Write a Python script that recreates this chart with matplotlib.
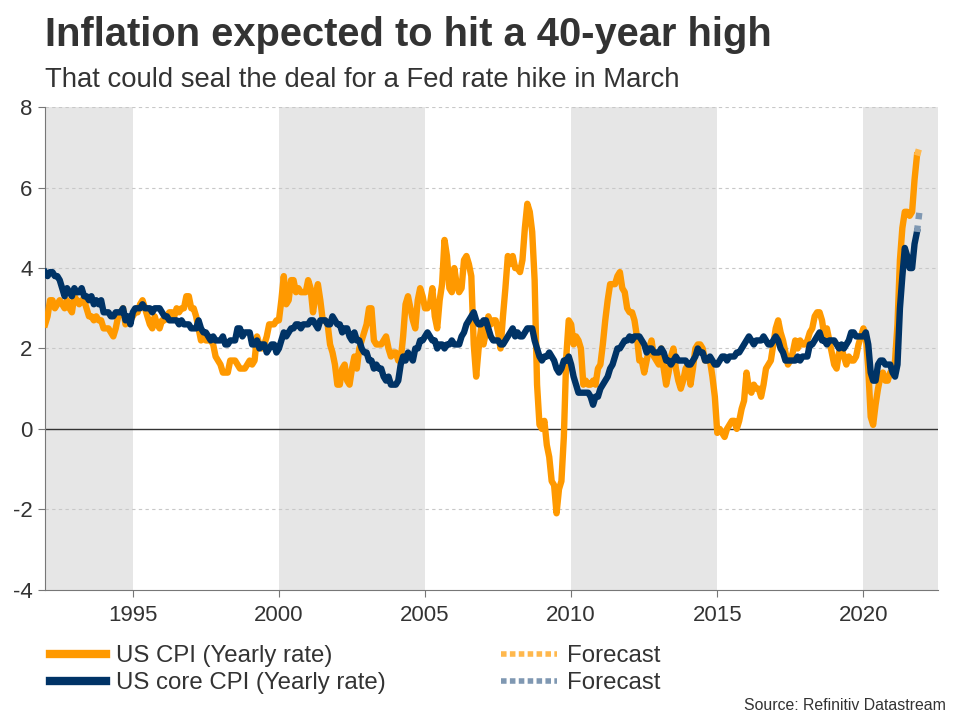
import matplotlib
matplotlib.use("Agg")
import matplotlib.pyplot as plt
from matplotlib.lines import Line2D
import numpy as np

plt.rcParams['font.family'] = ['Liberation Sans', 'DejaVu Sans']

# US CPI, yearly rate, monthly from Jan 1992 to Nov 2021
cpi = [
    2.6, 2.8, 3.2, 3.2, 3.0, 3.1, 3.2, 3.1, 3.0, 3.2, 3.0, 2.9,   # 1992
    3.3, 3.2, 3.1, 3.2, 3.2, 3.0, 2.8, 2.8, 2.7, 2.8, 2.7, 2.7,   # 1993
    2.5, 2.5, 2.5, 2.4, 2.3, 2.5, 2.8, 2.9, 3.0, 2.6, 2.7, 2.7,   # 1994
    2.8, 2.9, 2.9, 3.1, 3.2, 3.0, 2.8, 2.6, 2.5, 2.8, 2.6, 2.5,   # 1995
    2.7, 2.7, 2.8, 2.9, 2.9, 2.8, 3.0, 2.9, 3.0, 3.0, 3.3, 3.3,   # 1996
    3.0, 3.0, 2.8, 2.5, 2.2, 2.3, 2.2, 2.2, 2.2, 2.1, 1.8, 1.7,   # 1997
    1.6, 1.4, 1.4, 1.4, 1.7, 1.7, 1.7, 1.6, 1.5, 1.5, 1.5, 1.6,   # 1998
    1.7, 1.6, 1.7, 2.3, 2.1, 2.0, 2.1, 2.3, 2.6, 2.6, 2.6, 2.7,   # 1999
    2.7, 3.2, 3.8, 3.1, 3.2, 3.7, 3.7, 3.4, 3.5, 3.4, 3.4, 3.4,   # 2000
    3.7, 3.5, 2.9, 3.3, 3.6, 3.2, 2.7, 2.7, 2.6, 2.1, 1.9, 1.6,   # 2001
    1.1, 1.1, 1.5, 1.6, 1.2, 1.1, 1.5, 1.8, 1.5, 2.0, 2.2, 2.4,   # 2002
    2.6, 3.0, 3.0, 2.2, 2.1, 2.1, 2.1, 2.2, 2.3, 2.0, 1.8, 1.9,   # 2003
    1.9, 1.7, 1.7, 2.3, 3.1, 3.3, 3.0, 2.7, 2.5, 3.2, 3.5, 3.3,   # 2004
    3.0, 3.0, 3.1, 3.5, 2.8, 2.5, 3.2, 3.6, 4.7, 4.3, 3.5, 3.4,   # 2005
    4.0, 3.6, 3.4, 3.5, 4.2, 4.3, 4.1, 3.8, 2.1, 1.3, 2.0, 2.5,   # 2006
    2.1, 2.4, 2.8, 2.6, 2.7, 2.7, 2.4, 2.0, 2.8, 3.5, 4.3, 4.1,   # 2007
    4.3, 4.0, 4.0, 3.9, 4.2, 5.0, 5.6, 5.4, 4.9, 3.7, 1.1, 0.1,   # 2008
    0.0, 0.2, -0.4, -0.7, -1.3, -1.4, -2.1, -1.5, -1.3, -0.2, 1.8, 2.7,  # 2009
    2.6, 2.1, 2.3, 2.2, 2.0, 1.1, 1.2, 1.1, 1.1, 1.2, 1.1, 1.5,   # 2010
    1.6, 2.1, 2.7, 3.2, 3.6, 3.6, 3.6, 3.8, 3.9, 3.5, 3.4, 3.0,   # 2011
    2.9, 2.9, 2.7, 2.3, 1.7, 1.7, 1.4, 1.7, 2.0, 2.2, 1.8, 1.7,   # 2012
    1.6, 2.0, 1.5, 1.1, 1.4, 1.8, 2.0, 1.5, 1.2, 1.0, 1.2, 1.5,   # 2013
    1.6, 1.1, 1.5, 2.0, 2.1, 2.1, 2.0, 1.7, 1.7, 1.7, 1.3, 0.8,   # 2014
    -0.1, 0.0, -0.1, -0.2, 0.0, 0.1, 0.2, 0.2, 0.0, 0.2, 0.5, 0.7,  # 2015
    1.4, 1.0, 0.9, 1.1, 1.0, 1.0, 0.8, 1.1, 1.5, 1.6, 1.7, 2.1,   # 2016
    2.5, 2.7, 2.4, 2.2, 1.9, 1.6, 1.7, 1.9, 2.2, 2.0, 2.2, 2.1,   # 2017
    2.1, 2.2, 2.4, 2.5, 2.8, 2.9, 2.9, 2.7, 2.3, 2.5, 2.2, 1.9,   # 2018
    1.6, 1.5, 1.9, 2.0, 1.8, 1.6, 1.8, 1.7, 1.7, 1.8, 2.1, 2.3,   # 2019
    2.5, 2.3, 1.5, 0.3, 0.1, 0.6, 1.0, 1.3, 1.4, 1.2, 1.2, 1.4,   # 2020
    1.4, 1.7, 2.6, 4.2, 5.0, 5.4, 5.4, 5.3, 5.4, 6.2, 6.8,        # 2021
]

# US core CPI, yearly rate, monthly from Jan 1992 to Nov 2021
core = [
    3.9, 3.8, 3.9, 3.9, 3.8, 3.8, 3.7, 3.5, 3.3, 3.5, 3.4, 3.3,   # 1992
    3.5, 3.4, 3.4, 3.5, 3.3, 3.3, 3.2, 3.3, 3.1, 3.2, 3.1, 3.2,   # 1993
    2.9, 2.9, 2.9, 2.8, 2.8, 2.9, 2.9, 2.9, 3.0, 2.7, 2.8, 2.6,   # 1994
    2.9, 3.0, 3.0, 3.0, 3.1, 3.0, 3.0, 3.0, 2.9, 3.0, 3.0, 3.0,   # 1995
    2.9, 2.8, 2.8, 2.7, 2.7, 2.7, 2.7, 2.6, 2.7, 2.6, 2.6, 2.6,   # 1996
    2.5, 2.5, 2.5, 2.7, 2.5, 2.4, 2.4, 2.3, 2.2, 2.3, 2.2, 2.2,   # 1997
    2.2, 2.3, 2.1, 2.1, 2.2, 2.2, 2.2, 2.5, 2.5, 2.3, 2.4, 2.4,   # 1998
    2.4, 2.1, 2.1, 2.2, 2.0, 2.1, 2.1, 1.9, 2.0, 2.1, 2.1, 1.9,   # 1999
    2.0, 2.2, 2.4, 2.3, 2.4, 2.5, 2.5, 2.6, 2.6, 2.5, 2.6, 2.6,   # 2000
    2.6, 2.7, 2.7, 2.6, 2.5, 2.7, 2.7, 2.7, 2.6, 2.6, 2.8, 2.7,   # 2001
    2.6, 2.6, 2.4, 2.5, 2.5, 2.3, 2.2, 2.4, 2.2, 2.2, 2.0, 1.9,   # 2002
    1.9, 1.7, 1.7, 1.5, 1.6, 1.5, 1.5, 1.3, 1.2, 1.3, 1.1, 1.1,   # 2003
    1.1, 1.2, 1.6, 1.8, 1.7, 1.9, 1.8, 1.7, 2.0, 2.0, 2.2, 2.2,   # 2004
    2.3, 2.4, 2.3, 2.2, 2.2, 2.0, 2.1, 2.1, 2.0, 2.1, 2.1, 2.2,   # 2005
    2.1, 2.1, 2.1, 2.3, 2.4, 2.6, 2.7, 2.8, 2.9, 2.7, 2.6, 2.6,   # 2006
    2.7, 2.7, 2.5, 2.3, 2.2, 2.2, 2.2, 2.1, 2.1, 2.2, 2.3, 2.4,   # 2007
    2.5, 2.3, 2.4, 2.3, 2.3, 2.4, 2.5, 2.5, 2.5, 2.2, 2.0, 1.8,   # 2008
    1.7, 1.8, 1.8, 1.9, 1.8, 1.7, 1.5, 1.4, 1.5, 1.7, 1.7, 1.8,   # 2009
    1.6, 1.3, 1.1, 0.9, 0.9, 0.9, 0.9, 0.9, 0.8, 0.6, 0.8, 0.8,   # 2010
    1.0, 1.1, 1.2, 1.3, 1.5, 1.6, 1.8, 2.0, 2.0, 2.1, 2.2, 2.2,   # 2011
    2.3, 2.2, 2.3, 2.3, 2.3, 2.2, 2.1, 1.9, 2.0, 2.0, 1.9, 1.9,   # 2012
    1.9, 2.0, 1.9, 1.7, 1.7, 1.6, 1.7, 1.8, 1.7, 1.7, 1.7, 1.7,   # 2013
    1.6, 1.6, 1.7, 1.8, 2.0, 1.9, 1.9, 1.7, 1.7, 1.8, 1.7, 1.6,   # 2014
    1.6, 1.7, 1.8, 1.8, 1.7, 1.8, 1.8, 1.8, 1.9, 1.9, 2.0, 2.1,   # 2015
    2.2, 2.3, 2.2, 2.1, 2.2, 2.2, 2.2, 2.3, 2.2, 2.1, 2.1, 2.2,   # 2016
    2.3, 2.2, 2.0, 1.9, 1.7, 1.7, 1.7, 1.7, 1.7, 1.8, 1.7, 1.8,   # 2017
    1.8, 1.8, 2.1, 2.1, 2.2, 2.3, 2.4, 2.2, 2.2, 2.1, 2.2, 2.2,   # 2018
    2.2, 2.1, 2.0, 2.1, 2.0, 2.1, 2.2, 2.4, 2.4, 2.3, 2.3, 2.3,   # 2019
    2.3, 2.4, 2.1, 1.4, 1.2, 1.2, 1.6, 1.7, 1.7, 1.6, 1.6, 1.6,   # 2020
    1.4, 1.3, 1.6, 3.0, 3.8, 4.5, 4.3, 4.0, 4.0, 4.6, 4.9,        # 2021
]

# forecasts for Dec 2021
cpi_forecast = 7.0
core_forecast = 5.4

shaded = [(1992, 1995), (2000, 2005), (2010, 2015), (2020, 2022.55)]
xticks = [1995, 2000, 2005, 2010, 2015, 2020]
yticks = [-4, -2, 0, 2, 4, 6, 8]

orange = '#ff9900'
navy = '#003366'
text_col = '#333333'

months = 1992 + np.arange(len(cpi)) / 12.0
last = months[-1]
fc_x = [last, last + 1 / 12.0]

fig = plt.figure(figsize=(9.6, 7.2), dpi=100)
ax = fig.add_axes([0.047, 0.181, 0.930, 0.670])

for a, b in shaded:
    ax.axvspan(a, b, color='#e6e6e6', lw=0, zorder=0)

for y in yticks:
    if y == 0:
        ax.axhline(0, color='#333333', lw=1, zorder=1)
    elif y != -4:
        ax.axhline(y, color='#c8c8c8', lw=0.8, ls=(0, (3, 3)), zorder=1)

ax.plot(months, cpi, color=orange, lw=4.6, zorder=3, solid_joinstyle='round')
ax.plot(fc_x, [cpi[-1], cpi_forecast], color='#ffb84d', lw=4.6, ls=(0, (1, 1)), zorder=3)
ax.plot(months, core, color=navy, lw=4.6, zorder=4, solid_joinstyle='round')
ax.plot(fc_x, [core[-1], core_forecast], color='#7f98b2', lw=4.6, ls=(0, (1, 1)), zorder=4)

for s in ['top', 'right']:
    ax.spines[s].set_visible(False)
ax.spines['left'].set_color('#777777')
ax.spines['bottom'].set_color('#777777')

ax.set_xlim(1992, 2022.55)
ax.set_ylim(-4, 8)
ax.set_xticks(xticks)
ax.set_yticks(yticks)
ax.set_xticklabels([str(t) for t in xticks], fontsize=16, color=text_col)
ax.set_yticklabels([str(t) for t in yticks], fontsize=16, color=text_col)
ax.tick_params(axis='x', length=5, color='#777777', pad=6)
ax.tick_params(axis='y', length=5, color='#777777', pad=4)

fig.text(0.047, 0.951, 'Inflation expected to hit a 40-year high', fontsize=28.7,
         fontweight='bold', color=text_col, va='center', ha='left')
fig.text(0.047, 0.889, 'That could seal the deal for a Fed rate hike in March',
         fontsize=19.8, color=text_col, va='center', ha='left')

handles = [
    Line2D([], [], color=orange, lw=6),
    Line2D([], [], color=navy, lw=6),
    Line2D([], [], color='#ffb84d', lw=4, ls=(0, (1, 0.6))),
    Line2D([], [], color='#7f98b2', lw=4, ls=(0, (1, 0.6))),
]
labels = ['US CPI (Yearly rate)', 'US core CPI (Yearly rate)', 'Forecast', 'Forecast']
fig.legend(handles, labels, loc='upper left', bbox_to_anchor=(0.052, 0.104), ncol=2,
           frameon=False, fontsize=17.3, handlelength=2.33, handletextpad=0.42,
           columnspacing=4.8, labelspacing=0.2, labelcolor=text_col,
           borderpad=0, borderaxespad=0)

fig.text(0.985, 0.02, 'Source: Refinitiv Datastream', fontsize=11.4, color=text_col,
         ha='right', va='center')

fig.savefig('out.png', dpi=100)
